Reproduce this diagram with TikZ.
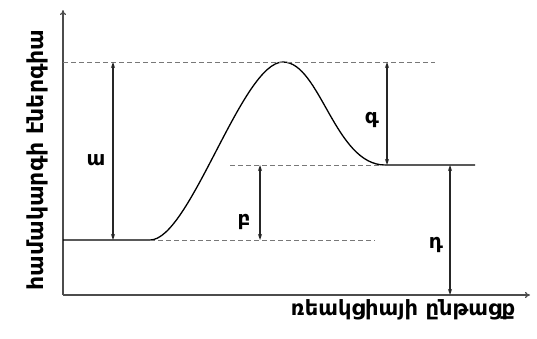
\documentclass[tikz,border=0pt]{standalone}
\usepackage{fontspec}
\setmainfont{DejaVu Sans}
\usetikzlibrary{arrows.meta}
\definecolor{Cg}{RGB}{120,120,120}

\begin{document}
\begin{tikzpicture}[x=1pt,y=-1pt,
    axis/.style={black!70,line width=1.1pt,-{To[length=5pt,width=6pt]}},
    level/.style={Cg,line width=0.9pt,dash pattern=on 5pt off 3pt},
    gap/.style={black!85,line width=1.2pt,{Stealth[length=6pt,width=4pt]}-{Stealth[length=6pt,width=4pt]}},
    lbl/.style={font=\bfseries\fontsize{20}{20}\selectfont,inner sep=0pt}]
    \useasboundingbox (0,0) rectangle (537,338);
    % axes
    \coordinate (O) at (63,295);
    \draw[axis] (O) -- (63,10);
    \draw[axis] (O) -- (530,295);
    % energy curve
    \draw[black,line width=1.3pt] (63,240) -- (150,240)
      .. controls (190,240) and (242,62) .. (283,62)
      .. controls (320,62) and (335,165) .. (385,165) -- (475,165);
    % reference levels
    \draw[level] (63,62) -- (435,62);
    \draw[level] (230,165) -- (385,165);
    \draw[level] (150,240) -- (375,240);
    % energy gaps
    \draw[gap] (113,240) -- (113,62);
    \draw[gap] (260,240) -- (260,165);
    \draw[gap] (387,165) -- (387,62);
    \draw[gap] (450,295) -- (450,165);
    \node[lbl] (a) at (96,160) {ա};
    \node[lbl] (b) at (244,222) {բ};
    \node[lbl] (g) at (372,120) {գ};
    \node[lbl] (d) at (436,245) {դ};
    \node[lbl,font=\bfseries\fontsize{22}{22}\selectfont,rotate=90] (ylab) at (37,160) {համակարգի էներգիա};
    \node[lbl,font=\bfseries\fontsize{21}{21}\selectfont] (xlab) at (403,310) {ռեակցիայի ընթացք};
\end{tikzpicture}
\end{document}
